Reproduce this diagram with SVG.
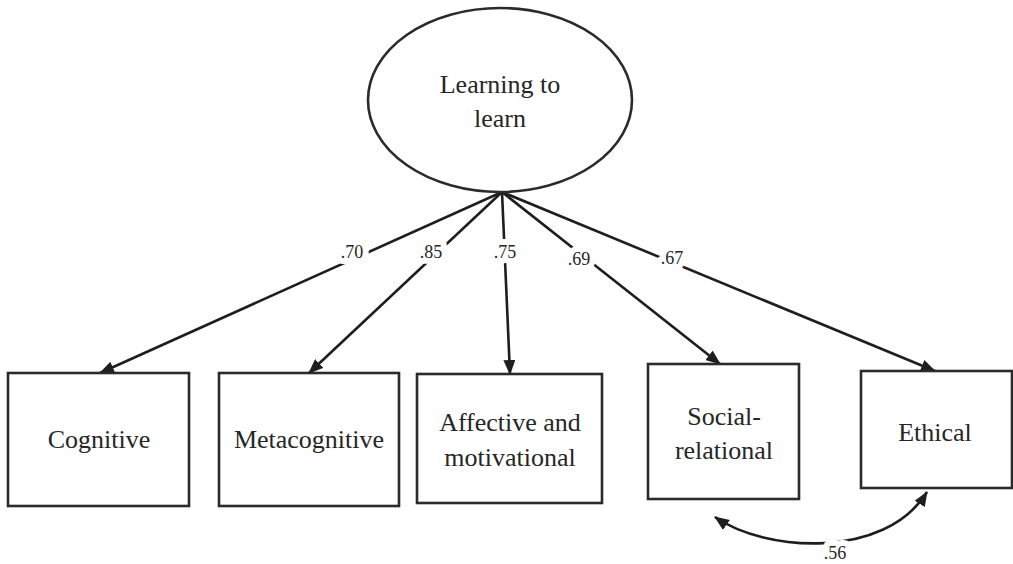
<svg xmlns="http://www.w3.org/2000/svg" width="1013" height="564" viewBox="0 0 1013 564">
<style>
.node{fill:#fff;stroke:#2b2b2b;stroke-width:2.6}
.lbl{font-family:'Liberation Serif','Times New Roman',Times,'DejaVu Serif',serif;font-size:26px;fill:#262626;text-anchor:middle}
.edge{fill:none;stroke:#1e1e1e;stroke-width:2.6}
.w{font-family:'Liberation Serif','Times New Roman',Times,'DejaVu Serif',serif;font-size:18px;fill:#262626;text-anchor:middle;stroke:#fff;stroke-width:12;paint-order:stroke;stroke-linejoin:round}
</style>
<defs>
<marker id="ah" markerUnits="userSpaceOnUse" markerWidth="16" markerHeight="12" refX="14" refY="6" orient="auto-start-reverse">
<path d="M0,0 L15,6 L0,12 Z" fill="#1e1e1e"/>
</marker>
</defs>
<rect width="1013" height="564" fill="#fff"/>
<g id="connectors">
<path class="edge" d="M502,192 L100,373" marker-end="url(#ah)"/>
<path class="edge" d="M502,192 L309,373" marker-end="url(#ah)"/>
<path class="edge" d="M502,192 L510,374" marker-end="url(#ah)"/>
<path class="edge" d="M502,192 L720,364" marker-end="url(#ah)"/>
<path class="edge" d="M502,192 L935,371" marker-end="url(#ah)"/>
<path class="edge" d="M715,517 C765,552 885,560 927,492" marker-start="url(#ah)" marker-end="url(#ah)"/>
<text class="w" x="352" y="258">.70</text>
<text class="w" x="431" y="258">.85</text>
<text class="w" x="505" y="258">.75</text>
<text class="w" x="579" y="265">.69</text>
<text class="w" x="672" y="264">.67</text>
<text class="w" x="835" y="559">.56</text>
</g>
<g id="learning">
<ellipse class="node" cx="500" cy="100" rx="132" ry="92"/>
<text class="lbl" x="500" y="93">Learning to</text>
<text class="lbl" x="500" y="127">learn</text>
</g>
<g id="cognitive">
<rect class="node" x="8" y="373" width="181" height="133"/>
<text class="lbl" x="99" y="448">Cognitive</text>
</g>
<g id="metacognitive">
<rect class="node" x="219" y="373" width="180" height="133"/>
<text class="lbl" x="309" y="448">Metacognitive</text>
</g>
<g id="affective">
<rect class="node" x="417" y="374" width="185" height="129"/>
<text class="lbl" x="510" y="431">Affective and</text>
<text class="lbl" x="510" y="466">motivational</text>
</g>
<g id="social">
<rect class="node" x="648" y="364" width="151" height="135"/>
<text class="lbl" x="724" y="425">Social-</text>
<text class="lbl" x="724" y="459">relational</text>
</g>
<g id="ethical">
<rect class="node" x="861" y="371" width="151" height="117"/>
<text class="lbl" x="935" y="441">Ethical</text>
</g>
</svg>
